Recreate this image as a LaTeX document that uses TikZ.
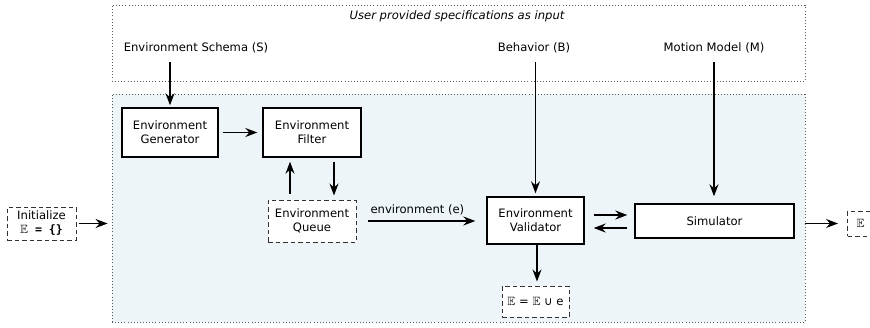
\documentclass[tikz,border=0pt]{standalone}
\usepackage{amssymb}
\usepackage{fontspec}
\setmainfont{DejaVu Sans}
\setmonofont{DejaVu Sans Mono}
\usetikzlibrary{arrows.meta}
\definecolor{panelblue}{RGB}{237,245,248}
\definecolor{dotgray}{RGB}{90,90,90}
\definecolor{dashgray}{RGB}{50,50,50}
\tikzset{
  solidbox/.style={draw=black, line width=1.4pt, fill=white, align=center, inner sep=0pt},
  dashbox/.style={draw=dashgray, line width=1pt, dash pattern=on 4.5pt off 3pt, fill=white, align=center, inner sep=0pt},
  arr/.style={draw=black, line width=1.2pt, -{Stealth[length=12pt,width=9pt,inset=4pt]}},
  dotframe/.style={draw=dotgray, line width=0.9pt, dash pattern=on 0.9pt off 2.2pt},
  lbl/.style={inner sep=1pt}
}
\begin{document}
\begin{tikzpicture}[x=1pt,y=-1pt,font=\fontsize{11.6}{14}\selectfont]
\useasboundingbox (0,0) rectangle (870,327);
% frames
\node[dotframe, minimum width=693pt, minimum height=76pt, inner sep=0pt] (top) at (458.5,43) {};
\node[dotframe, fill=panelblue, minimum width=693pt, minimum height=228pt, inner sep=0pt] (blue) at (458.5,208) {};
% titles
\node[lbl, font=\fontsize{11.6}{14}\selectfont\itshape] (title) at (457,16) {User provided specifications as input};
\node[lbl] (schema) at (196,48) {Environment Schema (S)};
\node[lbl] (behavior) at (534,48) {Behavior (B)};
\node[lbl] (motion) at (714,48) {Motion Model (M)};
% boxes
\node[solidbox, minimum width=96pt, minimum height=49pt] (gen) at (170,132.5) {Environment\\Generator};
\node[solidbox, minimum width=98pt, minimum height=49pt] (filt) at (312,132.5) {Environment\\Filter};
\node[dashbox, minimum width=88pt, minimum height=42pt] (queue) at (312,221) {Environment\\Queue};
\node[solidbox, minimum width=97pt, minimum height=47pt] (val) at (535.5,220.5) {Environment\\Validator};
\node[solidbox, minimum width=159pt, minimum height=34pt] (sim) at (714.5,221) {Simulator};
\node[dashbox, minimum width=69pt, minimum height=33pt] (init) at (41.5,223.5) {Initialize\\{\large$\mathbb{E}$}\texttt{\bfseries{} = \{\}}};
\node[dashbox, minimum width=67pt, minimum height=31pt] (eue) at (535.5,301.5) {{\large$\mathbb{E}$} = {\large$\mathbb{E}$} ∪ e};
\node[dashbox, minimum width=40pt, minimum height=25pt, anchor=west, text width=22pt, align=left] (eout) at (847,223.5) {{\large$\mathbb{E}$}};
% connectors
\draw[arr, shorten <=8pt, shorten >=2pt] (schema.south -| gen.north) -- (gen.north);
\draw[arr, shorten <=8pt, shorten >=3pt] (behavior.south -| val.north) -- (val.north);
\draw[arr, shorten <=8pt, shorten >=7pt] (motion.south) -- (motion.south |- sim.north);
\draw[arr, shorten <=4pt, shorten >=5pt] (gen.east) -- (filt.west);
\draw[arr, shorten <=6pt, shorten >=4pt] ([xshift=-22pt]queue.north) -- ([xshift=-22pt]filt.south);
\draw[arr, shorten <=4pt, shorten >=4pt] ([xshift=22pt]filt.south) -- ([xshift=22pt]queue.north);
\draw[arr, shorten <=11pt, shorten >=11pt] (queue.east) -- (queue.east -| val.west)
  node[lbl, midway, above=4pt, xshift=-4pt] (elabel) {environment (e)};
\draw[arr, shorten <=9pt, shorten >=7pt] ([yshift=5.5pt]val.east) -- ([yshift=5.5pt]val.east -| sim.west);
\draw[arr, shorten <=7pt, shorten >=9pt] ([yshift=-7.5pt]val.east -| sim.west) -- ([yshift=-7.5pt]val.east);
\draw[arr, shorten <=2pt, shorten >=4pt] (init.east) -- (init.east -| blue.west);
\draw[arr, shorten <=10pt, shorten >=9pt] (sim.east |- eout.west) -- (eout.west);
\draw[arr, shorten <=0pt, shorten >=4pt] ([xshift=1.5pt]val.south) -- ([xshift=1.5pt]val.south |- eue.north);
\end{tikzpicture}
\end{document}
